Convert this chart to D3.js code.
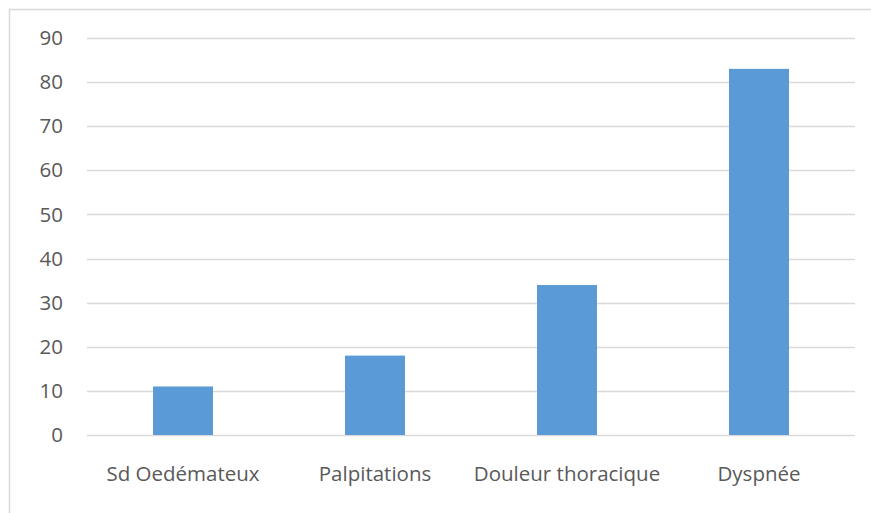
<!DOCTYPE html>
<html>
<head>
<meta charset="utf-8">
<script src="https://cdn.jsdelivr.net/npm/d3@7"></script>
<style>
  body { margin: 0; background: #fff; }
  text { font-family: "Open Sans", "Noto Sans", sans-serif; fill: #595959; }
</style>
</head>
<body>
<div id="chart"></div>
<script>
// Data
const categories = ['Sd Oedémateux', 'Palpitations', 'Douleur thoracique', 'Dyspnée'];
const values = [11, 18, 34, 83];
const yTicks = [0, 10, 20, 30, 40, 50, 60, 70, 80, 90];

const width = 871, height = 513;
const margin = { top: 38, right: 16, bottom: 78, left: 87 };
const innerWidth = width - margin.left - margin.right;
const innerHeight = height - margin.top - margin.bottom;

const svg = d3.select('#chart')
    .append('svg')
    .attr('width', width)
    .attr('height', height);

// Outer chart border: only the top and left edges are inside the picture
svg.append('path')
    .attr('d', `M9.5,${height}V9.5H${width}`)
    .attr('fill', 'none')
    .attr('stroke', '#d9d9d9')
    .attr('stroke-width', 1.5);

const g = svg.append('g')
    .attr('transform', `translate(${margin.left},${margin.top})`);

const xScale = d3.scaleBand()
    .domain(categories)
    .range([0, innerWidth])
    .padding(0);

const yScale = d3.scaleLinear()
    .domain([0, 90])
    .range([innerHeight, 0]);

// Gridlines
g.selectAll('.grid')
    .data(yTicks)
    .enter()
    .append('line')
    .attr('x1', 0)
    .attr('x2', innerWidth)
    .attr('y1', d => Math.round(yScale(d)) + 0.5)
    .attr('y2', d => Math.round(yScale(d)) + 0.5)
    .attr('stroke', '#d9d9d9')
    .attr('stroke-width', 1.3);

// Bars (gap width 220%)
const barWidth = xScale.bandwidth() / 3.2;
g.selectAll('.bar')
    .data(values)
    .enter()
    .append('rect')
    .attr('x', (d, i) => xScale(categories[i]) + xScale.bandwidth() / 2 - barWidth / 2)
    .attr('y', d => yScale(d))
    .attr('width', barWidth)
    .attr('height', d => innerHeight - yScale(d))
    .attr('fill', '#5b9bd5');

// Y axis labels
const yAxis = d3.axisLeft(yScale)
    .tickValues(yTicks)
    .tickSize(0)
    .tickPadding(24);
const yG = g.append('g').call(yAxis);
yG.select('.domain').remove();
yG.selectAll('text')
    .attr('fill', '#595959')
    .style('font-size', '20.5px');

// X axis labels
const xAxis = d3.axisBottom(xScale)
    .tickSize(0)
    .tickPadding(31);
const xG = g.append('g')
    .attr('transform', `translate(0,${innerHeight})`)
    .call(xAxis);
xG.select('.domain').remove();
xG.selectAll('text')
    .attr('fill', '#595959')
    .style('font-size', '20.5px');
</script>
</body>
</html>
